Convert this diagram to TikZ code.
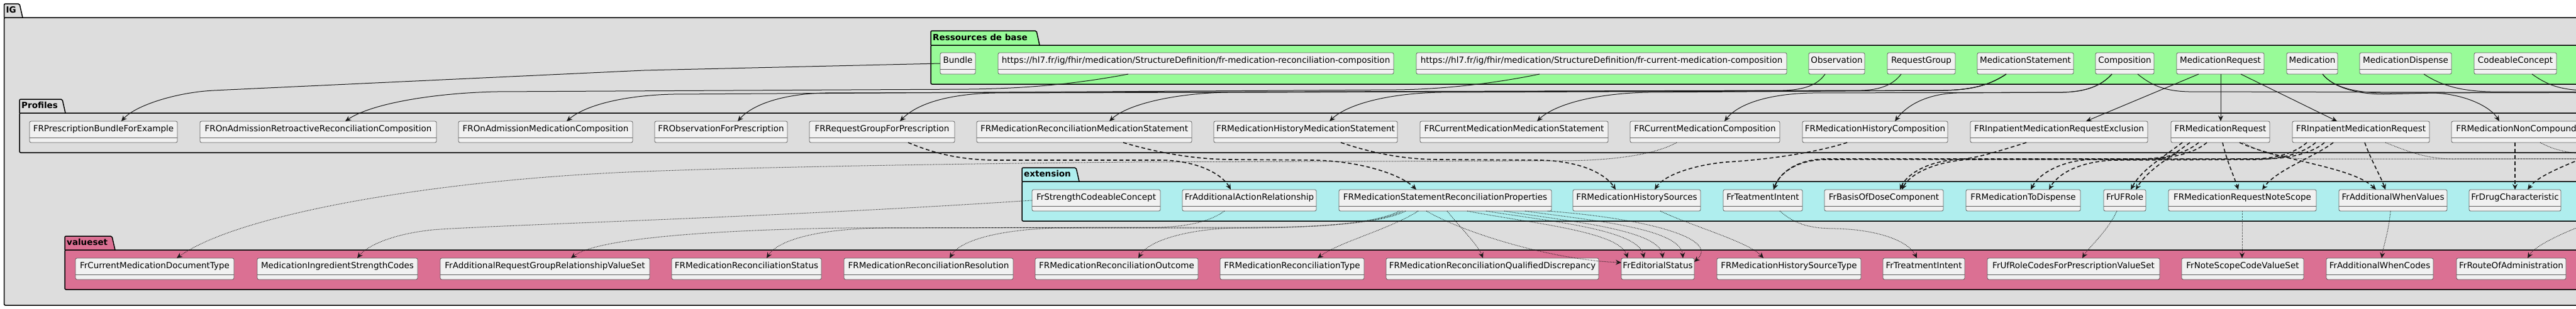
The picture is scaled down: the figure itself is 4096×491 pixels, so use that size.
\documentclass[tikz,border=0pt]{standalone}
\usepackage{fontspec}
\setmainfont{DejaVu Sans}
\usetikzlibrary{fit,arrows.meta}
\definecolor{igfill}{HTML}{DDDDDD}
\definecolor{basefill}{HTML}{98FB98}
\definecolor{extfill}{HTML}{AFEEEE}
\definecolor{vsfill}{HTML}{DB7093}
\definecolor{boxfill}{HTML}{F1F1F1}
\definecolor{boxline}{HTML}{606060}
\definecolor{edgecol}{HTML}{181818}
\tikzset{
 clsbox/.style={draw=boxline, fill=boxfill, line width=0.8pt, rounded corners=2.5pt, inner sep=0pt, outer sep=0pt},
 clstext/.style={font=\fontsize{13.5}{16}\selectfont, inner sep=0pt, text height=10pt, text depth=3pt, text=black},
 divline/.style={draw=boxline, line width=0.8pt},
 pkgline/.style={draw=black, line width=1.5pt},
 pkgtext/.style={font=\fontsize{13.5}{16}\selectfont\bfseries, inner sep=1pt, anchor=west, text height=10pt, text depth=3pt},
 arrowtip/.style={-{Stealth[length=9pt,width=8pt,inset=3pt]}},
 inh/.style={arrowtip, draw=edgecol, line width=1pt},
 ext/.style={arrowtip, draw=edgecol, line width=1.6pt, dash pattern=on 6pt off 4pt},
 vsl/.style={arrowtip, draw=edgecol, line width=1pt, dash pattern=on 1pt off 1.5pt},
}
\newcommand\umlbox[5]{%
  \node[clsbox, fit={(#2,#4) (#3,#4+34)}] (#1) {};
  \node[clstext] (#1-t) at ([yshift=-13pt]#1.north) {#5};
  \draw[divline] ([yshift=-26pt]#1.north west) -- ([yshift=-26pt]#1.north east);
}
\newcommand\umlpkg[9]{%
  \filldraw[pkgline, fill=#8, rounded corners=2pt] (#2,#4) -- (#2,#3) -- (#6-5,#3) -- (#6,#4);
  \filldraw[pkgline, fill=#8, rounded corners=2pt] (#2,#4) rectangle (#7,#5);
  \node[pkgtext] (#1) at (#2+2,{(#3+#4)/2}) {#9};
}
\begin{document}
\begin{tikzpicture}[x=1pt,y=-1pt]
\useasboundingbox (0,0) rectangle (4096,491);
\clip (0,0) rectangle (4096,491);
% packages
\umlpkg{pIG}{6.5}{6}{28}{486}{36}{4300}{igfill}{IG}
\umlpkg{pBase}{1480}{49}{72}{134}{1653}{4300}{basefill}{Ressources de base}
\umlpkg{pProf}{31}{158}{180}{243}{104}{4300}{igfill}{Profiles}
\umlpkg{pExt}{1625}{267}{289}{352}{1716}{4300}{extfill}{extension}
\umlpkg{pVs}{103}{376}{398}{461}{183}{4300}{vsfill}{valueset}
% base resources
\umlbox{bundle}{1495}{1551}{84}{Bundle}
\umlbox{urlrec}{1587}{2216}{84}{https://hl7.fr/ig/fhir/medication/StructureDefinition/fr-medication-reconciliation-composition}
\umlbox{urlcur}{2252}{2841}{84}{https://hl7.fr/ig/fhir/medication/StructureDefinition/fr-current-medication-composition}
\umlbox{obs}{2876}{2965}{84}{Observation}
\umlbox{rg}{3001}{3109}{84}{RequestGroup}
\umlbox{ms}{3144}{3297}{84}{MedicationStatement}
\umlbox{comp}{3332}{3425}{84}{Composition}
\umlbox{mreq}{3461}{3600}{84}{MedicationRequest}
\umlbox{med}{3636}{3717}{84}{Medication}
\umlbox{mdisp}{3752}{3898}{84}{MedicationDispense}
\umlbox{cc}{3934}{4065}{84}{CodeableConcept}
% profiles
\umlbox{fbundle}{47}{282}{193}{FRPrescriptionBundleForExample}
\umlbox{fretro}{318}{694}{193}{FROnAdmissionRetroactiveReconciliationComposition}
\umlbox{fadm}{729}{1006}{193}{FROnAdmissionMedicationComposition}
\umlbox{fobs}{1041}{1252}{193}{FRObservationForPrescription}
\umlbox{frg}{1287}{1518}{193}{FRRequestGroupForPrescription}
\umlbox{frecms}{1553}{1895}{193}{FRMedicationReconciliationMedicationStatement}
\umlbox{fhistms}{1930}{2222}{193}{FRMedicationHistoryMedicationStatement}
\umlbox{fcurms}{2258}{2557}{193}{FRCurrentMedicationMedicationStatement}
\umlbox{fcurcomp}{2592}{2830}{193}{FRCurrentMedicationComposition}
\umlbox{fhistcomp}{2866}{3097}{193}{FRMedicationHistoryComposition}
\umlbox{fexcl}{3133}{3415}{193}{FRInpatientMedicationRequestExclusion}
\umlbox{fmr}{3452}{3609}{193}{FRMedicationRequest}
\umlbox{fimr}{3645}{3863}{193}{FRInpatientMedicationRequest}
\umlbox{fnc}{3898}{4104}{193}{FRMedicationNonCompound}
% extensions
\umlbox{xstr}{1641}{1845}{302}{FrStrengthCodeableConcept}
\umlbox{xaar}{1880}{2093}{302}{FrAdditionalActionRelationship}
\umlbox{xprop}{2129}{2467}{302}{FRMedicationStatementReconciliationProperties}
\umlbox{xhsrc}{2501}{2704}{302}{FRMedicationHistorySources}
\umlbox{xti}{2740}{2866}{302}{FrTeatmentIntent}
\umlbox{xbod}{2901}{3090}{302}{FrBasisOfDoseComponent}
\umlbox{xtod}{3126}{3308}{302}{FRMedicationToDispense}
\umlbox{xufr}{3345}{3412}{302}{FrUFRole}
\umlbox{xnote}{3448}{3683}{302}{FRMedicationRequestNoteScope}
\umlbox{xwhen}{3719}{3891}{302}{FrAdditionalWhenValues}
\umlbox{xdrug}{3926}{4072}{302}{FrDrugCharacteristic}
% value sets
\umlbox{vcurdoc}{120}{372}{411}{FrCurrentMedicationDocumentType}
\umlbox{vstr}{409}{664}{411}{MedicationIngredientStrengthCodes}
\umlbox{vargr}{700}{1033}{411}{FrAdditionalRequestGroupRelationshipValueSet}
\umlbox{vstat}{1068}{1306}{411}{FRMedicationReconciliationStatus}
\umlbox{vres}{1342}{1611}{411}{FRMedicationReconciliationResolution}
\umlbox{vout}{1646}{1905}{411}{FRMedicationReconciliationOutcome}
\umlbox{vtype}{1940}{2169}{411}{FRMedicationReconciliationType}
\umlbox{vqd}{2204}{2542}{411}{FRMedicationReconciliationQualifiedDiscrepancy}
\umlbox{ved}{2578}{2694}{411}{FrEditorialStatus}
\umlbox{vhst}{2730}{2959}{411}{FRMedicationHistorySourceType}
\umlbox{vti}{2994}{3124}{411}{FrTreatmentIntent}
\umlbox{vufr}{3160}{3434}{411}{FrUfRoleCodesForPrescriptionValueSet}
\umlbox{vnote}{3469}{3663}{411}{FrNoteScopeCodeValueSet}
\umlbox{vwhen}{3699}{3869}{411}{FrAdditionalWhenCodes}
\umlbox{vroute}{3906}{4080}{411}{FrRouteOfAdministration}
% off-frame ends
\coordinate (offA) at (4300,148);
\coordinate (offB) at (4300,147);
\coordinate (offC) at (4300,146);
\coordinate (offD) at (4300,144);
\coordinate (offE) at (4150,235);
\coordinate (offF) at (4130,350);
\coordinate (offG) at (4300,253);
\coordinate (offH) at (4300,252);
\coordinate (offI) at (4150,248);
% base -> profiles
\draw[inh] (bundle.west) -- (1024,112) -- (340,144) .. controls (280,147) and (215,168) .. (193,0 |- fbundle.north);
\draw[inh] (1794,0 |- urlrec.south) .. controls (1720,132) and (1640,141) .. (1540,142) -- (790,146) .. controls (690,148) and (590,165) .. (549,0 |- fretro.north);
\draw[inh] (2448,0 |- urlcur.south) .. controls (2380,132) and (2300,142) .. (2220,143) -- (1070,150) .. controls (990,152) and (930,168) .. (901,0 |- fadm.north);
\draw[inh] (2902,0 |- obs.south) .. controls (2890,135) and (2870,143) .. (2835,144) -- (1310,148) .. controls (1240,150) and (1195,168) .. (1173,0 |- fobs.north);
\draw[inh] (3023,0 |- rg.south) .. controls (3010,135) and (2990,143) .. (2960,144) -- (1580,148) .. controls (1500,150) and (1455,168) .. (1431,0 |- frg.north);
\draw[inh] (3190,0 |- ms.south) .. controls (3160,138) and (3130,143) .. (3090,144) -- (1950,147) .. controls (1860,149) and (1790,168) .. (1764,0 |- frecms.north);
\draw[inh] (3190,0 |- ms.south) .. controls (3160,138) and (3130,143) .. (3090,144) -- (2290,147) .. controls (2200,149) and (2140,168) .. (2114,0 |- fhistms.north);
\draw[inh] (3190,0 |- ms.south) .. controls (3160,138) and (3130,143) .. (3090,144) -- (2620,147) .. controls (2530,149) and (2470,168) .. (2444,0 |- fcurms.north);
\draw[inh] (3358,0 |- comp.south) .. controls (3340,138) and (3315,146) .. (3280,147) -- (3110,148) .. controls (3060,150) and (3030,170) .. (3013,0 |- fhistcomp.north);
\draw[inh] (3358,0 |- comp.south) .. controls (3340,138) and (3315,146) .. (3280,147) -- (2880,148) .. controls (2800,150) and (2760,170) .. (2742,0 |- fcurcomp.north);
\draw[inh] (3399,0 |- comp.south) .. controls (3420,135) and (3440,145) .. (3480,146) -- (offA);
\draw[inh] (3496,0 |- mreq.south) -- (3317,0 |- fexcl.north);
\draw[inh] (3531,0 |- mreq.south) -- (3531,0 |- fmr.north);
\draw[inh] (3563,0 |- mreq.south) -- (3716,0 |- fimr.north);
\draw[inh] (3693,0 |- med.south) .. controls (3710,140) and (3750,150) .. (3790,150) -- (3870,148) .. controls (3920,150) and (3960,170) .. (3974,0 |- fnc.north);
\draw[inh] (3693,0 |- med.south) .. controls (3710,140) and (3750,149) .. (3800,148) -- (offB);
\draw[inh] (3854,0 |- mdisp.south) .. controls (3880,135) and (3910,145) .. (3960,146) -- (offC);
\draw[inh] (4026,0 |- cc.south) .. controls (4050,135) and (4070,143) .. (4110,144) -- (offD);
% profiles -> extensions
\draw[ext] (1444,0 |- frg.south) .. controls (1480,242) and (1520,254) .. (1580,255) -- (1850,255) .. controls (1910,257) and (1945,280) .. (1957,0 |- xaar.north);
\draw[ext] (1786,0 |- frecms.south) .. controls (1840,243) and (1900,254) .. (1960,254) -- (2090,255) .. controls (2170,257) and (2230,280) .. (2252,0 |- xprop.north);
\draw[ext] (2132,0 |- fhistms.south) .. controls (2180,243) and (2230,254) .. (2290,254) -- (2450,255) .. controls (2520,257) and (2555,280) .. (2569,0 |- xhsrc.north);
\draw[ext] (2937,0 |- fhistcomp.south) .. controls (2880,245) and (2800,255) .. (2745,258) .. controls (2690,263) and (2645,280) .. (2631,0 |- xhsrc.north);
\draw[ext] (3222,0 |- fexcl.south) .. controls (3170,243) and (3140,253) .. (3110,254) .. controls (3060,258) and (3030,280) .. (3021,0 |- xbod.north);
\draw[ext] (3470,0 |- fmr.south) .. controls (3440,250) and (3405,270) .. (3388,0 |- xufr.north);
\draw[ext] (3482,0 |- fmr.south) .. controls (3452,250) and (3415,270) .. (3396,0 |- xufr.north);
\draw[ext] (3496,0 |- fmr.south) .. controls (3475,245) and (3440,253) .. (3400,253) -- (2900,253) .. controls (2850,255) and (2828,280) .. (2820,0 |- xti.north);
\draw[ext] (3509,0 |- fmr.south) .. controls (3488,245) and (3450,253) .. (3400,254) -- (3320,254) .. controls (3270,258) and (3240,280) .. (3229,0 |- xtod.north);
\draw[ext] (3534,0 |- fmr.south) .. controls (3540,255) and (3552,280) .. (3559,0 |- xnote.north);
\draw[ext] (3561,0 |- fmr.south) .. controls (3620,255) and (3740,265) .. (3778,0 |- xwhen.north);
\draw[ext] (3668,0 |- fimr.south) .. controls (3650,243) and (3620,253) .. (3580,253) -- (2900,254) .. controls (2850,256) and (2828,280) .. (2820,0 |- xti.north);
\draw[ext] (3682,0 |- fimr.south) .. controls (3664,243) and (3630,253) .. (3590,254) -- (3360,255) .. controls (3300,258) and (3270,280) .. (3258,0 |- xtod.north);
\draw[ext] (3696,0 |- fimr.south) .. controls (3678,243) and (3640,253) .. (3600,253) -- (3130,254) .. controls (3070,258) and (3035,280) .. (3024,0 |- xbod.north);
\draw[ext] (3710,0 |- fimr.south) .. controls (3680,250) and (3620,270) .. (3597,0 |- xnote.north);
\draw[ext] (3760,0 |- fimr.south) .. controls (3770,255) and (3785,280) .. (3793,0 |- xwhen.north);
\draw[ext] (3999,0 |- fnc.south) -- (3999,0 |- xdrug.north);
\draw[ext] (offE) .. controls (4080,262) and (4035,280) .. (4019,0 |- xdrug.north);
% dotted links to value sets
\draw[vsl] (2666,0 |- fcurcomp.south) .. controls (2630,247) and (2560,256) .. (2480,256) -- (1800,258) .. controls (1400,262) and (1150,268) .. (1024,273) .. controls (700,285) and (380,340) .. (281,0 |- vcurdoc.north);
\draw[vsl] (xstr.west) .. controls (1250,345) and (850,356) .. (700,365) .. controls (630,370) and (585,390) .. (568,0 |- vstr.north);
\draw[vsl] (1947,0 |- xaar.south) .. controls (1925,352) and (1890,361) .. (1840,362) -- (1340,363) .. controls (1150,366) and (950,378) .. (908,0 |- vargr.north);
\draw[vsl] (2225,0 |- xprop.south) .. controls (2190,355) and (2100,362) .. (2000,362) -- (1400,363) .. controls (1290,365) and (1235,385) .. (1219,0 |- vstat.north);
\draw[vsl] (2230,0 |- xprop.south) .. controls (2195,355) and (2100,362) .. (2000,363) -- (1680,363) .. controls (1580,366) and (1525,385) .. (1510,0 |- vres.north);
\draw[vsl] (2235,0 |- xprop.south) .. controls (2200,355) and (2100,362) .. (2000,362) -- (1960,363) .. controls (1880,366) and (1825,385) .. (1810,0 |- vout.north);
\draw[vsl] (2255,0 |- xprop.south) .. controls (2210,365) and (2130,385) .. (2095,0 |- vtype.north);
\draw[vsl] (2301,0 |- xprop.south) .. controls (2320,360) and (2350,390) .. (2358,0 |- vqd.north);
\draw[vsl] (2268,0 |- xprop.south) .. controls (2330,372) and (2470,414) .. ([yshift=-7pt]ved.north west);
\draw[vsl] (2333,0 |- xprop.south) .. controls (2430,355) and (2575,368) .. (2588,0 |- ved.north);
\draw[vsl] (2363,0 |- xprop.south) .. controls (2460,352) and (2605,365) .. (2614,0 |- ved.north);
\draw[vsl] (2392,0 |- xprop.south) .. controls (2490,352) and (2638,365) .. (2644,0 |- ved.north);
\draw[vsl] (2425,0 |- xprop.south) .. controls (2520,350) and (2672,362) .. (2676,0 |- ved.north);
\draw[vsl] (2461,0 |- xprop.south) .. controls (2620,348) and (2735,380) .. ([yshift=-6pt]ved.north east);
\draw[vsl] (2640,0 |- xhsrc.south) .. controls (2690,360) and (2780,385) .. (2804,0 |- vhst.north);
\draw[vsl] (2830,0 |- xti.south) .. controls (2855,358) and (2880,364) .. (2920,364) .. controls (2990,366) and (3035,385) .. (3048,0 |- vti.north);
\draw[vsl] (3366,0 |- xufr.south) .. controls (3350,370) and (3320,395) .. (3311,0 |- vufr.north);
\draw[vsl] (3565,0 |- xnote.south) -- (3565,0 |- vnote.north);
\draw[vsl] (3801,0 |- xwhen.south) .. controls (3798,370) and (3790,390) .. (3787,0 |- vwhen.north);
\draw[vsl] (offF) .. controls (4070,372) and (4030,392) .. (4019,0 |- vroute.north);
\draw[vsl] (3566,0 |- fmr.south) .. controls (3595,242) and (3625,253) .. (3670,253) -- (offG);
\draw[vsl] (3793,0 |- fimr.south) .. controls (3830,242) and (3860,253) .. (3900,253) -- (offH);
\draw[vsl] (4039,0 |- fnc.south) .. controls (4060,238) and (4080,245) .. (offI);
\end{tikzpicture}
\end{document}
